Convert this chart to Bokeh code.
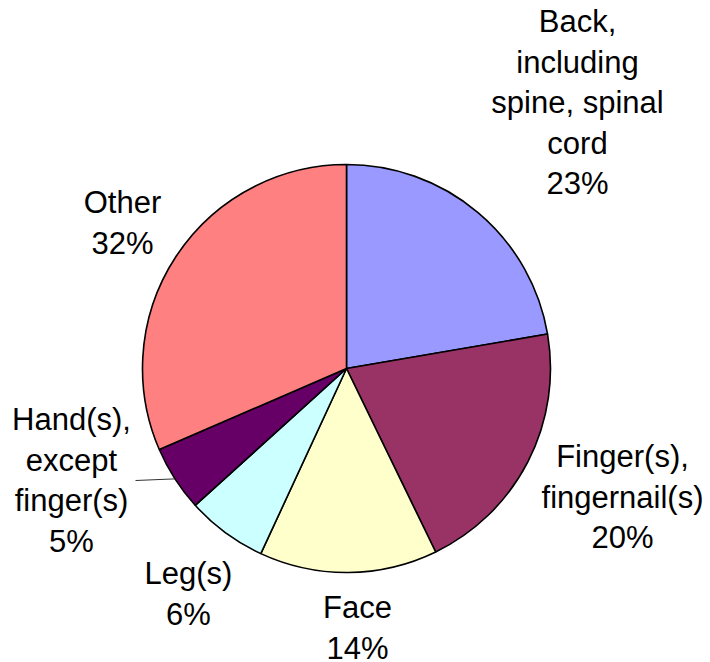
import math
from bokeh.plotting import figure
from bokeh.models import Range1d, ColumnDataSource
from bokeh.core.properties import value
from bokeh.embed import file_html
from bokeh.resources import INLINE

# ---- data ----
categories = ["Back, including spine, spinal cord", "Finger(s), fingernail(s)",
              "Face", "Leg(s)", "Hand(s), except finger(s)", "Other"]
shares = [22.3, 20.5, 14.1, 6.4, 5.2, 31.5]
label_texts = ["Back,\nincluding\nspine, spinal\ncord\n23%",
               "Finger(s),\nfingernail(s)\n20%",
               "Face\n14%",
               "Leg(s)\n6%",
               "Hand(s),\nexcept\nfinger(s)\n5%",
               "Other\n32%"]
colors = ["#9999FF", "#993366", "#FFFFCC", "#CCFFFF", "#660066", "#FF8080"]

# ---- layout (pixel coordinates, y measured from top) ----
W, H = 710, 662
CX, CY, R = 346, 368, 204
label_anchor = [(577, 32), (622, 467), (357, 618), (188, 584), (71, 430), (122, 213)]
TEXT_DY = -11
LINE_GAP = 40.5
FONT = "Liberation Sans"
FSIZE = "31px"

def Y(ys):
    return H - ys

p = figure(width=W, height=H, output_backend="svg", toolbar_location=None,
           x_range=Range1d(0, W), y_range=Range1d(0, H),
           min_border=0, outline_line_color=None)
p.axis.visible = False
p.grid.visible = False
p.background_fill_color = "white"
p.border_fill_color = "white"

total = sum(shares)
starts, ends, mids = [], [], []
cum = 0.0
for s in shares:
    a0 = math.pi / 2 - 2 * math.pi * cum / total
    cum += s
    a1 = math.pi / 2 - 2 * math.pi * cum / total
    starts.append(a1)
    ends.append(a0)
    mids.append((a0 + a1) / 2)

src = ColumnDataSource(dict(start=starts, end=ends, color=colors, cat=categories))
p.wedge(x=CX, y=Y(CY), radius=R, start_angle="start", end_angle="end",
        fill_color="color", line_color="black", line_width=1.6, source=src)

# leader line for the Hand(s) label
hi = 4
ex = CX + R * math.cos(mids[hi])
ey = Y(CY) + R * math.sin(mids[hi])
p.line(x=[135, ex], y=[Y(480), ey], line_color="#333333", line_width=1)

xs, ys, txt = [], [], []
for lab, (ax, ay) in zip(label_texts, label_anchor):
    for i, line in enumerate(lab.split("\n")):
        xs.append(ax)
        ys.append(Y(ay + TEXT_DY + i * LINE_GAP))
        txt.append(line)
p.text(x=xs, y=ys, text=txt, text_align="center", text_baseline="alphabetic",
       text_font=value(FONT), text_font_size=FSIZE, text_color="black")

open("out.html", "w").write(file_html(p, INLINE))
